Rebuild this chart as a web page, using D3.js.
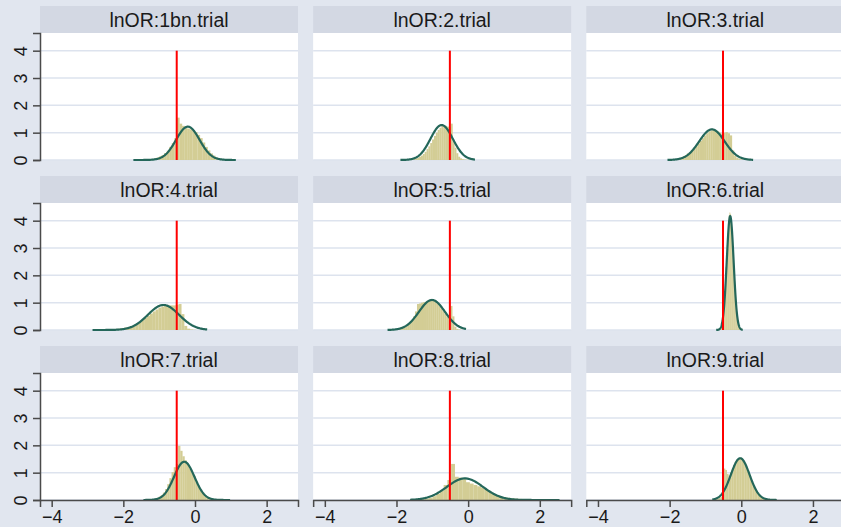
<!DOCTYPE html>
<html>
<head>
<meta charset="utf-8">
<script src="https://cdn.jsdelivr.net/npm/d3@7"></script>
<style>
  html, body { margin: 0; padding: 0; background: #e1e6ef; }
  svg { display: block; }
  text { font-family: "Liberation Sans", Arial, Helvetica, sans-serif; }
</style>
</head>
<body>
<svg id="chart" width="841" height="527"></svg>
<script>
// ---------- data ----------
const panelTitles = ["lnOR:1bn.trial", "lnOR:2.trial", "lnOR:3.trial",
                     "lnOR:4.trial", "lnOR:5.trial", "lnOR:6.trial",
                     "lnOR:7.trial", "lnOR:8.trial", "lnOR:9.trial"];

// histogram: first bin edge and bin width (40 bins per panel)
const binStart = [-1.72, -1.89, -2.06, -2.86, -2.25, -0.70, -1.44, -1.62, -0.81];
const binWidth = [0.0715, 0.052, 0.06, 0.08, 0.0548, 0.0185, 0.0605, 0.104, 0.045];

const hist1 = [0,0,0,0.01,0.01,0.02,0.03,0.04,0.06,0.09,0.13,0.18,0.25,0.34,0.48,0.62,0.80,1.55,1.33,1.25,1.18,1.15,1.12,1.08,1.02,0.92,0.80,0.64,0.48,0.35,0.24,0.16,0.10,0.06,0.04,0.02,0.01,0.01,0,0];
const hist2 = [0,0,0.01,0.01,0.01,0.02,0.03,0.04,0.06,0.08,0.12,0.16,0.22,0.30,0.40,0.50,0.62,0.75,0.88,1.00,1.10,1.18,1.25,1.27,1.25,1.22,1.20,1.33,0.65,0.45,0.25,0.12,0.06,0.03,0.02,0.01,0.01,0,0,0];
const hist3 = [0,0.01,0.02,0.03,0.04,0.06,0.08,0.12,0.18,0.24,0.27,0.33,0.40,0.50,0.60,0.70,0.80,0.90,0.98,1.05,1.08,1.10,1.08,1.05,1.00,0.95,1.00,1.02,0.98,0.90,0.35,0.15,0.08,0.04,0.02,0.01,0.01,0,0,0];
const hist4 = [0,0,0,0.01,0.01,0.01,0.02,0.03,0.04,0.05,0.07,0.09,0.11,0.14,0.18,0.23,0.29,0.36,0.44,0.52,0.60,0.68,0.75,0.82,0.86,0.88,0.90,0.90,0.90,0.92,0.95,0.58,0.15,0.05,0.02,0.01,0,0,0,0];
const hist5 = [0,0,0.01,0.01,0.02,0.03,0.04,0.06,0.09,0.13,0.18,0.25,0.35,0.50,0.68,0.95,0.97,1.00,1.02,1.03,1.05,1.08,1.10,1.07,1.02,0.95,0.87,0.78,0.68,0.58,0.48,0.40,0.88,0.50,0.12,0.04,0.02,0.01,0,0];
const hist6 = [0,0,0.01,0.01,0.02,0.05,0.08,0.13,0.22,0.34,0.51,0.75,1.05,1.40,2.30,2.70,3.10,3.50,3.90,4.20,4.30,4.25,4.00,3.70,3.30,2.80,2.20,1.90,1.40,1.00,0.70,0.45,0.30,0.18,0.10,0.06,0.03,0.02,0.01,0];
const hist7 = [0,0.01,0.01,0.02,0.03,0.05,0.08,0.12,0.18,0.27,0.40,0.58,0.80,1.02,1.20,1.32,1.98,1.80,1.60,1.45,1.32,1.15,1.00,0.88,0.70,0.52,0.38,0.27,0.18,0.12,0.08,0.05,0.04,0.03,0.02,0.01,0.01,0,0,0];
const hist8 = [0,0.01,0.02,0.03,0.05,0.08,0.14,0.22,0.35,0.55,0.73,1.32,0.85,0.82,0.80,0.65,0.60,0.55,0.50,0.45,0.38,0.30,0.22,0.16,0.12,0.10,0.08,0.06,0.05,0.04,0.03,0.02,0.02,0.01,0.01,0.01,0,0,0,0];
const hist9 = [0.01,0.02,0.03,0.05,0.08,0.12,0.18,1.15,1.10,0.95,0.90,1.00,1.12,1.28,1.40,1.48,1.53,1.55,1.52,1.45,1.35,1.22,1.05,0.88,0.70,0.55,0.42,0.32,0.25,0.18,0.12,0.08,0.05,0.03,0.02,0.01,0.01,0.01,0,0];
const histHeights = [hist1, hist2, hist3, hist4, hist5, hist6, hist7, hist8, hist9];

// fitted normal overlay parameters and drawn range
const normMean = [-0.20, -0.74, -0.82, -0.88, -1.01, -0.31, -0.30, -0.09, -0.03];
const normSD   = [0.327, 0.312, 0.356, 0.436, 0.363, 0.0957, 0.285, 0.505, 0.261];
const curveMin = [-1.72, -1.89, -2.06, -2.86, -2.25, -0.70, -1.44, -1.62, -0.81];
const curveMax = [1.14, 0.19, 0.33, 0.34, -0.06, 0.04, 0.98, 2.55, 0.99];

const refValue = -0.51;
const refTop = 4;
const yTicks = [0, 1, 2, 3, 4];
const xTicks = [-4, -2, 0, 2];

// ---------- layout ----------
const svg = d3.select("#chart");
const W = 841, H = 527;
svg.append("rect").attr("width", W).attr("height", H).attr("fill", "#e1e6ef");

const colLeft = [40, 313.15, 586.3];
const rowTop = [6, 176, 346];
const panelW = 258, stripH = 27, plotH = 127;

const x = d3.scaleLinear().domain([-4.326, 2.875]).range([0, panelW]);
const y = d3.scaleLinear().domain([0, 4.647]).range([plotH, 0]);

const COLORS = {
  strip: "#d3d8e3",
  grid: "#dde3ee",
  barFill: "#d3cd95",
  curve: "#24675a",
  ref: "#ff0000",
  axis: "#4a4a4a",
  text: "#1a1a1a"
};

panelTitles.forEach((title, p) => {
  const r = Math.floor(p / 3), c = p % 3;
  const g = svg.append("g").attr("transform", `translate(${colLeft[c]},${rowTop[r]})`);

  // strip
  g.append("rect").attr("x", 0).attr("y", 0).attr("width", panelW).attr("height", stripH)
    .attr("fill", COLORS.strip);
  g.append("text").attr("x", panelW / 2).attr("y", stripH / 2 + 7)
    .attr("text-anchor", "middle").attr("font-size", 19.5).attr("fill", COLORS.text)
    .text(title);

  const pg = g.append("g").attr("transform", `translate(0,${stripH})`);
  pg.append("rect").attr("width", panelW).attr("height", plotH).attr("fill", "#ffffff");

  // gridlines
  pg.selectAll("line.grid").data(yTicks).join("line").attr("class", "grid")
    .attr("x1", 0).attr("x2", panelW)
    .attr("y1", d => y(d)).attr("y2", d => y(d))
    .attr("stroke", COLORS.grid).attr("stroke-width", 1.5);

  // histogram bars
  const bins = histHeights[p].map((h, i) => ({
    x0: binStart[p] + i * binWidth[p],
    x1: binStart[p] + (i + 1) * binWidth[p],
    h: h
  })).filter(b => b.h > 0);
  pg.selectAll("rect.bar").data(bins).join("rect").attr("class", "bar")
    .attr("x", b => x(b.x0)).attr("width", b => x(b.x1) - x(b.x0) + 0.15)
    .attr("y", b => y(b.h)).attr("height", b => y(0) - y(b.h))
    .attr("fill", COLORS.barFill);

  // normal density overlay
  const n = 200;
  const pts = d3.range(n + 1).map(k => {
    const xv = curveMin[p] + (curveMax[p] - curveMin[p]) * k / n;
    const z = (xv - normMean[p]) / normSD[p];
    return [xv, Math.exp(-0.5 * z * z) / (normSD[p] * Math.sqrt(2 * Math.PI))];
  });
  pg.append("path").datum(pts)
    .attr("d", d3.line().x(d => x(d[0])).y(d => y(d[1])))
    .attr("fill", "none").attr("stroke", COLORS.curve).attr("stroke-width", 2.2)
    .attr("stroke-linejoin", "round");

  // reference line
  pg.append("line")
    .attr("x1", x(refValue)).attr("x2", x(refValue))
    .attr("y1", y(0)).attr("y2", y(refTop))
    .attr("stroke", COLORS.ref).attr("stroke-width", 2);

  // y axis on first column
  if (c === 0) {
    const ya = pg.append("g").call(d3.axisLeft(y).tickValues(yTicks).tickSize(7)
      .tickFormat(d3.format("d")));
    ya.select(".domain").attr("stroke", COLORS.axis).attr("stroke-width", 1.5);
    ya.selectAll(".tick line").attr("stroke", COLORS.axis).attr("stroke-width", 1.5);
    ya.selectAll(".tick text")
      .attr("font-size", 18).attr("fill", COLORS.text)
      .attr("font-family", "Liberation Sans, Arial, sans-serif")
      .attr("text-anchor", "middle").attr("dy", null).attr("x", null)
      .attr("transform", "translate(-19,0) rotate(-90)")
      .attr("dominant-baseline", "central");
  }
  // x axis on last row
  if (r === 2) {
    const xa = pg.append("g").attr("transform", `translate(0,${plotH})`)
      .call(d3.axisBottom(x).tickValues(xTicks).tickSize(7).tickPadding(3)
        .tickFormat(d => d3.format("d")(d).replace("-", "\u2212")));
    xa.select(".domain").attr("stroke", COLORS.axis).attr("stroke-width", 1.5);
    xa.selectAll(".tick line").attr("stroke", COLORS.axis).attr("stroke-width", 1.5);
    xa.selectAll(".tick text").attr("font-size", 18).attr("fill", COLORS.text)
      .attr("font-family", "Liberation Sans, Arial, sans-serif");
  }
});
</script>
</body>
</html>
